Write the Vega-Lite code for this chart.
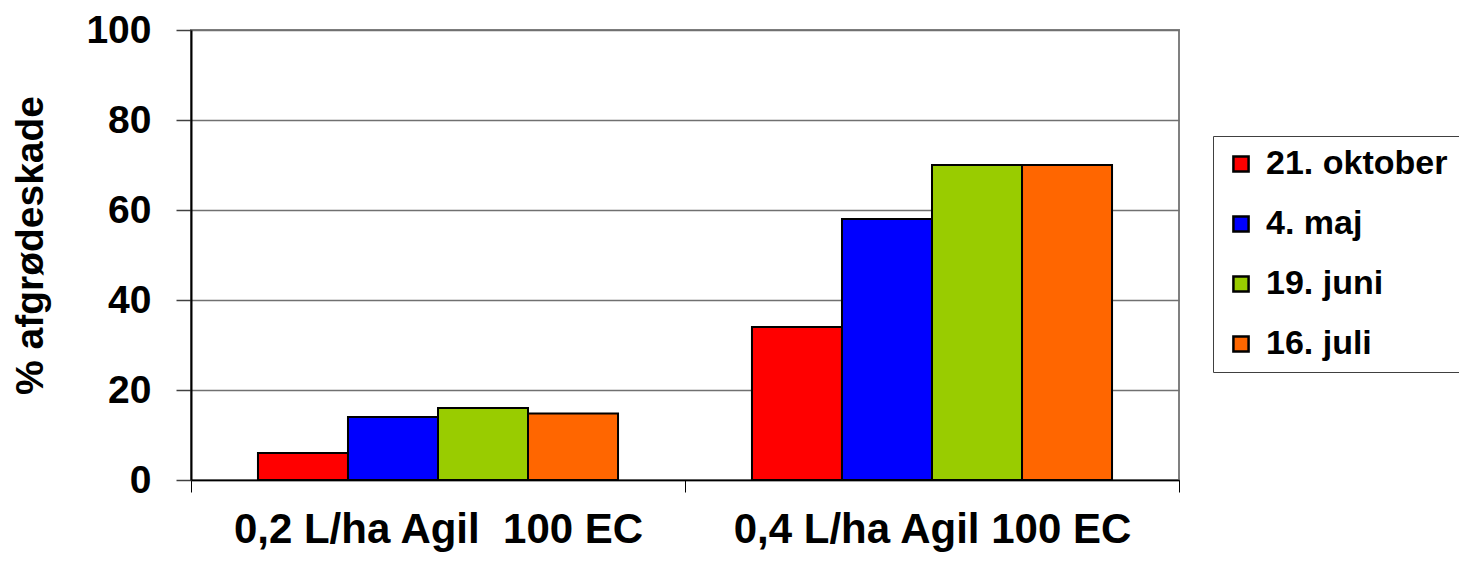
{
  "$schema": "https://vega.github.io/schema/vega-lite/v6.json",
  "width": 988,
  "height": 450,
  "autosize": "none",
  "padding": {"left": 191, "top": 30, "right": 280, "bottom": 84},
  "background": "white",
  "config": {
    "font": "Liberation Sans",
    "view": {"stroke": "#808080", "strokeWidth": 2}
  },
  "data": {
    "values": [
      {"group": "0,2 L/ha Agil \u00a0100 EC", "date": "21. oktober", "value": 6},
      {"group": "0,2 L/ha Agil \u00a0100 EC", "date": "4. maj", "value": 14},
      {"group": "0,2 L/ha Agil \u00a0100 EC", "date": "19. juni", "value": 16},
      {"group": "0,2 L/ha Agil \u00a0100 EC", "date": "16. juli", "value": 14.8},
      {"group": "0,4 L/ha Agil 100 EC", "date": "21. oktober", "value": 34},
      {"group": "0,4 L/ha Agil 100 EC", "date": "4. maj", "value": 58},
      {"group": "0,4 L/ha Agil 100 EC", "date": "19. juni", "value": 70},
      {"group": "0,4 L/ha Agil 100 EC", "date": "16. juli", "value": 70}
    ]
  },
  "mark": {"type": "bar", "stroke": "black", "strokeWidth": 2},
  "encoding": {
    "x": {
      "field": "group",
      "type": "nominal",
      "sort": null,
      "scale": {"paddingInner": 0, "paddingOuter": 0},
      "axis": {
        "title": null,
        "labelAngle": 0,
        "labelLimit": 0,
        "labelFontSize": 42,
        "labelFontWeight": "bold",
        "labelColor": "black",
        "labelPadding": 17,
        "tickBand": "extent",
        "tickSize": 12,
        "tickColor": "black",
        "tickWidth": 1,
        "domainColor": "black",
        "domainWidth": 1.5
      }
    },
    "xOffset": {
      "field": "date",
      "type": "nominal",
      "sort": ["21. oktober", "4. maj", "19. juni", "16. juli"],
      "scale": {"paddingInner": 0, "paddingOuter": 0.744}
    },
    "y": {
      "field": "value",
      "type": "quantitative",
      "scale": {"domain": [0, 100], "nice": false},
      "axis": {
        "title": "% afgrødeskade",
        "titleFontSize": 39,
        "titleFontWeight": "bold",
        "titleColor": "black",
        "titleAngle": -90,
        "titleAlign": "center",
        "titleBaseline": "middle",
        "titleX": -161,
        "titleY": 215,
        "values": [0, 20, 40, 60, 80, 100],
        "labelFontSize": 39,
        "labelFontWeight": "bold",
        "labelColor": "black",
        "labelPadding": 25,
        "tickSize": 15,
        "tickColor": "#404040",
        "tickWidth": 1.5,
        "domainColor": "black",
        "domainWidth": 2,
        "grid": true,
        "gridColor": "#707070",
        "gridWidth": 1.5
      }
    },
    "color": {
      "field": "date",
      "type": "nominal",
      "scale": {
        "domain": ["21. oktober", "4. maj", "19. juni", "16. juli"],
        "range": ["#FF0000", "#0000FF", "#99CC00", "#FF6600"]
      },
      "legend": {
        "title": null,
        "orient": "none",
        "legendX": 1022,
        "legendY": 106,
        "strokeColor": "#404040",
        "padding": 11,
        "fillColor": "white",
        "labelLimit": 0,
        "labelFontSize": 34,
        "labelFontWeight": "bold",
        "labelColor": "black",
        "labelOffset": 8,
        "symbolType": "square",
        "symbolSize": 230,
        "symbolStrokeColor": "black",
        "symbolStrokeWidth": 2.5,
        "symbolOpacity": 1,
        "rowPadding": 26
      }
    }
  }
}
